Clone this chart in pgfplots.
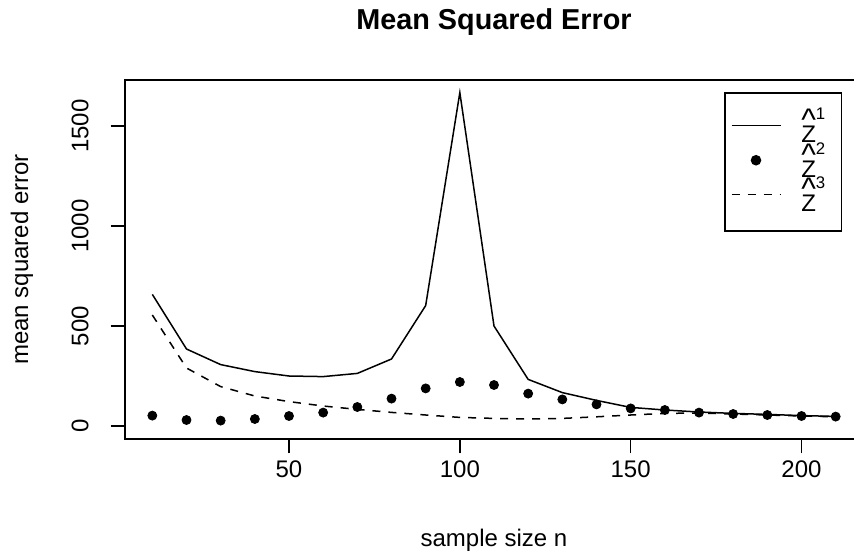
\documentclass[border=0pt]{standalone}
\usepackage{fontspec}
\setmainfont{Liberation Sans}
\usepackage{pgfplots}
\pgfplotsset{compat=1.18}

% hat(Z)^k as R's plotmath draws it
\newcommand{\zhat}[1]{%
  \makebox[0pt][l]{\makebox[7.34pt]{\raisebox{5.9pt}{\scalebox{1.3}{\symbol{94}}}}}%
  Z\raisebox{11.5pt}{\fontsize{8.4}{8.4}\selectfont #1}\kern5pt}

\pgfplotsset{
  linelegend/.style={legend image code/.code={\draw[##1] (0pt,8.5pt) -- (24.5pt,8.5pt);}},
  dotlegend/.style={legend image code/.code={\draw[##1] plot coordinates {(12.25pt,8.5pt)};}},
}

\begin{document}
\begin{tikzpicture}[x=1pt,y=1pt]
\begin{axis}[
    at={(0pt,0pt)}, anchor=south west,
    scale only axis,
    width=369pt, height=179.5pt,
    xmin=2, xmax=218, ymin=-65, ymax=1730,
    xtick={50,100,150,200},
    ytick={0,500,1000,1500},
    tick align=outside,
    major tick length=7.2pt,
    xtick pos=bottom, ytick pos=left,
    axis line style={line width=0.75pt},
    tick style={line width=0.75pt, black},
    /pgf/number format/assume math mode=true,
    /pgf/number format/1000 sep={},
    scaled ticks=false,
    ticklabel style={font=\fontsize{12}{14.4}\selectfont},
    xticklabel style={anchor=north},
    yticklabel style={rotate=90, anchor=south},
    yticklabel shift=7.5pt,
    title={\bfseries Mean Squared Error},
    title style={font=\fontsize{14.4}{17}\selectfont,
        at={(axis description cs:0.5,1.10585)}, anchor=base},
    xlabel={sample size n},
    ylabel={mean squared error},
    label style={font=\fontsize{12}{14.4}\selectfont},
    xlabel style={at={(axis description cs:0.5,-0.28134)}, anchor=center},
    ylabel style={at={(axis description cs:-0.13957,0.5)}, anchor=center},
    legend style={draw=black, line width=0.75pt,
        at={(axis description cs:0.97155,0.96518)}, anchor=north east,
        inner xsep=3pt, inner ysep=8.5pt, row sep=0pt, column sep=10pt,
        nodes={inner sep=0pt, text height=16.25pt, text depth=1pt,
               anchor=base west, font=\fontsize{12}{14.4}\selectfont}},
    legend cell align=left,
]
% Z1: solid line
\addplot[black, line width=0.75pt, no marks, linelegend]
  coordinates {
    (10,658) (20,385) (30,307) (40,272) (50,250) (60,247) (70,263)
    (80,335) (90,602) (100,1667) (110,500) (120,233) (130,167) (140,128)
    (150,93) (160,80) (170,70) (180,63) (190,58) (200,52) (210,48)
};
% Z2: filled dots
\addplot[black, only marks, mark=*, mark size=2.25pt, dotlegend]
  coordinates {
    (10,52) (20,30) (30,27) (40,35) (50,50) (60,67) (70,95)
    (80,137) (90,188) (100,220) (110,205) (120,162) (130,133) (140,108)
    (150,88) (160,80) (170,67) (180,60) (190,55) (200,50) (210,47)
};
% Z3: dashed line
\addplot[black, line width=0.75pt, no marks, dash pattern=on 4pt off 4pt, linelegend]
  coordinates {
    (10,555) (20,290) (30,197) (40,150) (50,122) (60,100) (70,83)
    (80,68) (90,55) (100,43) (110,38) (120,35) (130,38) (140,46)
    (150,55) (160,63) (170,65) (180,60) (190,55) (200,50) (210,46)
};
\legend{\zhat{1}, \zhat{2}, \zhat{3}}
\end{axis}
\pgfresetboundingbox
\useasboundingbox (-62.5pt,-59pt) rectangle (364.5pt,219.5pt);
\end{tikzpicture}
\end{document}
